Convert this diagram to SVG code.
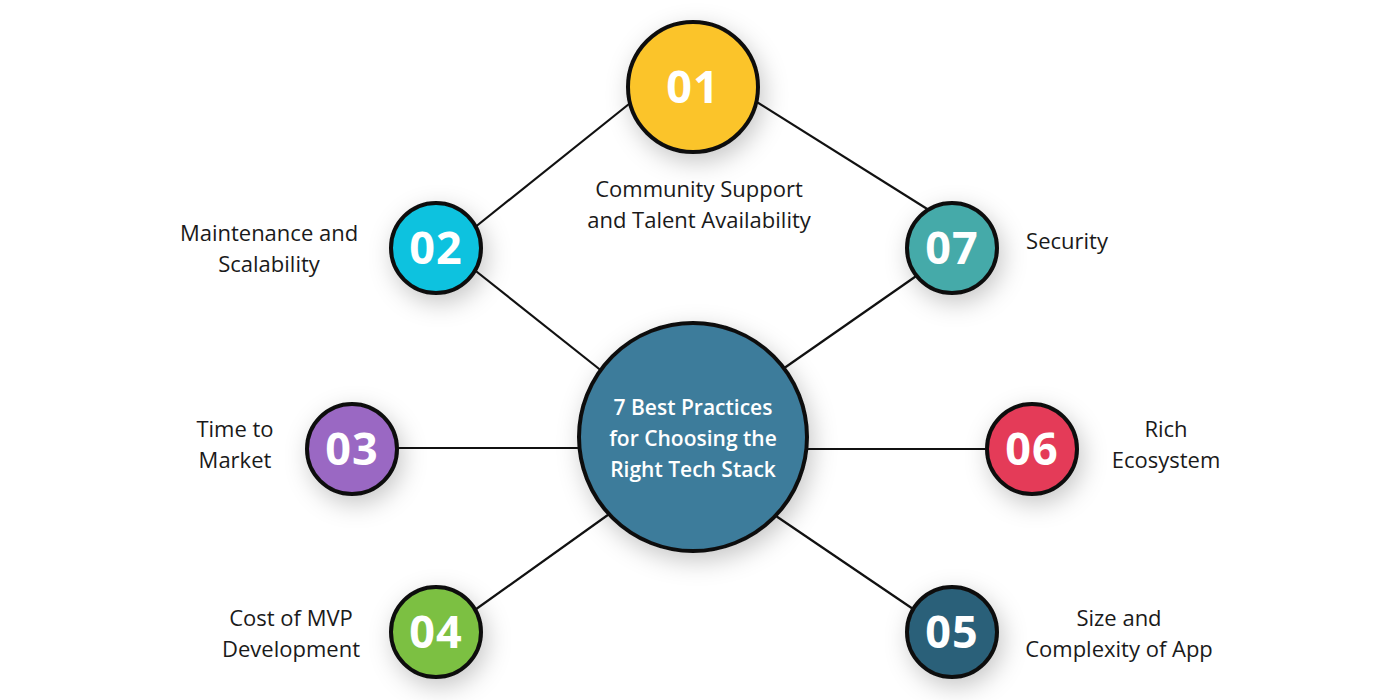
<svg xmlns="http://www.w3.org/2000/svg" width="1400" height="700" viewBox="0 0 1400 700">
<defs>
<filter id="sh" x="-60%" y="-60%" width="220%" height="220%">
<feDropShadow dx="4" dy="8" stdDeviation="12" flood-color="#000" flood-opacity="0.22"/>
</filter>
<style>
.c{stroke:#111;stroke-width:4;filter:url(#sh)}
.n{font-family:"Open Sans","Liberation Sans",sans-serif;font-weight:700;font-size:45px;fill:#fff;text-anchor:middle;letter-spacing:1px}
.l{font-family:"Open Sans","Liberation Sans",sans-serif;font-size:22px;fill:#1a1a1a;text-anchor:middle}
.t{font-family:"Open Sans","Liberation Sans",sans-serif;font-weight:600;font-size:21px;fill:#fff;text-anchor:middle}
#conn line{stroke:#111;stroke-width:2.2}
</style>
</defs>
<rect width="1400" height="700" fill="#fff"/>
<g id="conn">
<line x1="634" y1="100" x2="474" y2="228"/>
<line x1="752" y1="99" x2="932" y2="212"/>
<line x1="472" y1="268" x2="603" y2="372"/>
<line x1="922" y1="272" x2="780" y2="371"/>
<line x1="395" y1="448" x2="582" y2="448"/>
<line x1="805" y1="449" x2="990" y2="449"/>
<line x1="472" y1="612" x2="612" y2="512"/>
<line x1="916" y1="611" x2="773" y2="514"/>
</g>
<g id="center">
<circle class="c" cx="693" cy="437" r="114" fill="#3e7c9b"/>
<text class="t" x="693" y="415">7 Best Practices</text>
<text class="t" x="693" y="446">for Choosing the</text>
<text class="t" x="693" y="477">Right Tech Stack</text>
</g>
<g id="n01">
<circle class="c" cx="693" cy="87" r="65" fill="#fbc42c"/>
<text class="n" x="693" y="103">01</text>
<text class="l" x="699" y="197">Community Support</text>
<text class="l" x="699" y="228">and Talent Availability</text>
</g>
<g id="n02">
<circle class="c" cx="436" cy="248" r="45" fill="#0ec2df"/>
<text class="n" x="436" y="264">02</text>
<text class="l" x="269" y="241">Maintenance and</text>
<text class="l" x="269" y="272">Scalability</text>
</g>
<g id="n07">
<circle class="c" cx="952" cy="248" r="45" fill="#45aaa9"/>
<text class="n" x="952" y="264">07</text>
<text class="l" x="1067" y="249">Security</text>
</g>
<g id="n03">
<circle class="c" cx="352" cy="449" r="45" fill="#9a68c3"/>
<text class="n" x="352" y="465">03</text>
<text class="l" x="235" y="437">Time to</text>
<text class="l" x="235" y="468">Market</text>
</g>
<g id="n06">
<circle class="c" cx="1032" cy="449" r="45" fill="#e43b58"/>
<text class="n" x="1032" y="465">06</text>
<text class="l" x="1166" y="437">Rich</text>
<text class="l" x="1166" y="468">Ecosystem</text>
</g>
<g id="n04">
<circle class="c" cx="436" cy="632" r="45" fill="#7cc043"/>
<text class="n" x="436" y="648">04</text>
<text class="l" x="291" y="626">Cost of MVP</text>
<text class="l" x="291" y="657">Development</text>
</g>
<g id="n05">
<circle class="c" cx="952" cy="632" r="45" fill="#2c6179"/>
<text class="n" x="952" y="648">05</text>
<text class="l" x="1119" y="626">Size and</text>
<text class="l" x="1119" y="657">Complexity of App</text>
</g>
</svg>
